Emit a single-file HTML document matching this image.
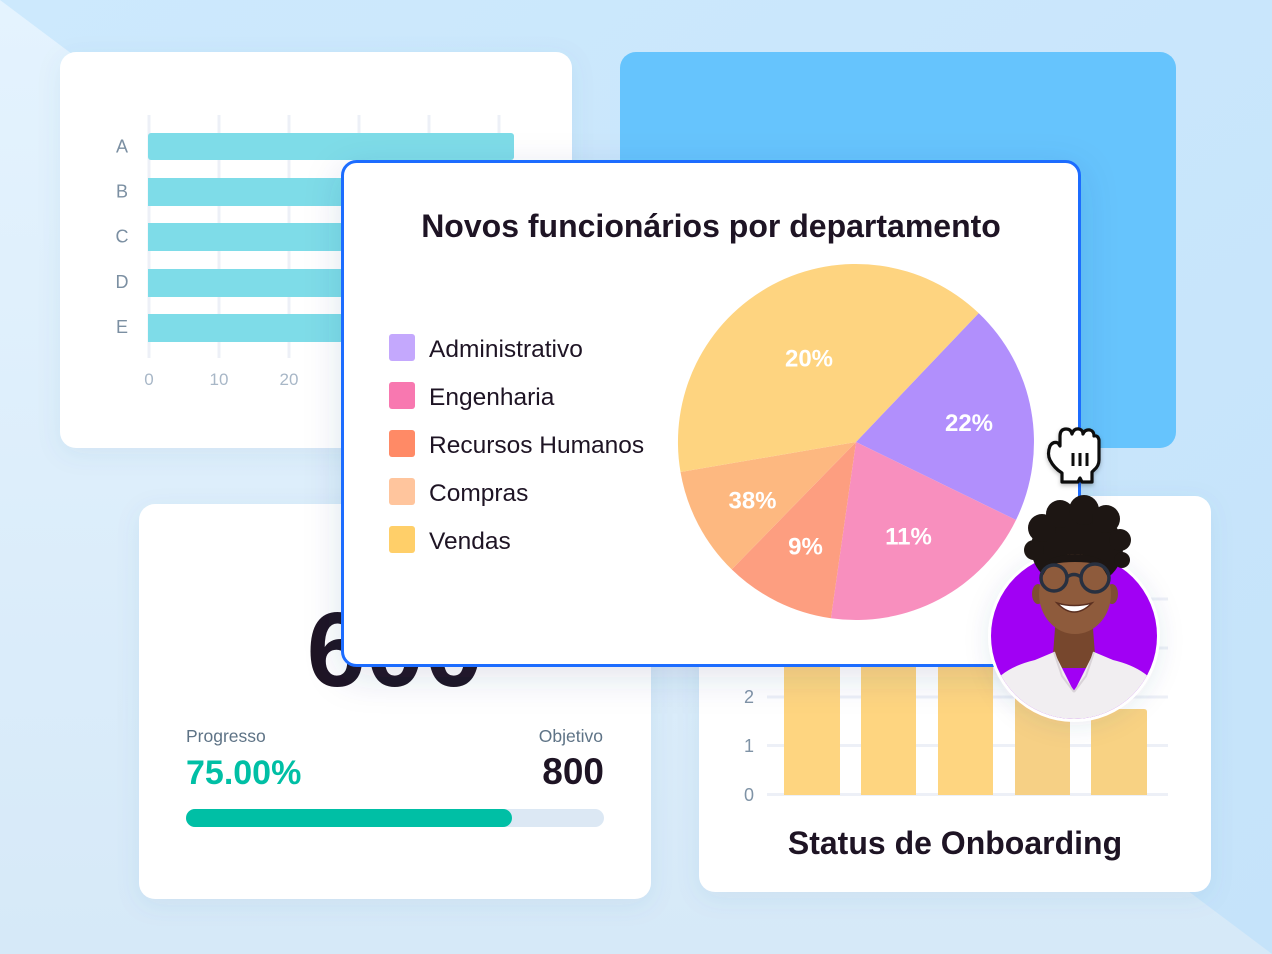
<!DOCTYPE html>
<html><head><meta charset="utf-8"><style>
html,body{margin:0;padding:0;width:1272px;height:954px;overflow:hidden;}
svg{display:block;font-family:"Liberation Sans",sans-serif;}
</style></head><body>
<svg width="1272" height="954" viewBox="0 0 1272 954" xmlns="http://www.w3.org/2000/svg">
<defs>
  <linearGradient id="bgD" x1="0" y1="0" x2="1" y2="1">
    <stop offset="0" stop-color="#cde9fd"/><stop offset="1" stop-color="#c5e3fa"/>
  </linearGradient>
  <linearGradient id="bgL" x1="0" y1="0" x2="0" y2="1">
    <stop offset="0" stop-color="#e4f3fe"/><stop offset="1" stop-color="#d6e9f8"/>
  </linearGradient>
  <filter id="sh" x="-20%" y="-20%" width="140%" height="140%">
    <feDropShadow dx="0" dy="6" stdDeviation="12" flood-color="#3a6a9a" flood-opacity="0.08"/>
  </filter>
  <filter id="sh2" x="-30%" y="-30%" width="160%" height="160%">
    <feDropShadow dx="0" dy="10" stdDeviation="18" flood-color="#2a4a7a" flood-opacity="0.14"/>
  </filter>
  <filter id="sh3" x="-30%" y="-30%" width="160%" height="160%">
    <feDropShadow dx="0" dy="4" stdDeviation="12" flood-color="#2a4a7a" flood-opacity="0.10"/>
  </filter>
  <filter id="sh4" x="-30%" y="-30%" width="160%" height="160%">
    <feDropShadow dx="0" dy="2" stdDeviation="2" flood-color="#000" flood-opacity="0.25"/>
  </filter>
  <clipPath id="avc"><circle cx="1074" cy="636" r="83"/></clipPath>
</defs>

<!-- background -->
<rect width="1272" height="954" fill="url(#bgD)"/>
<polygon points="0,0 1272,954 0,954" fill="url(#bgL)"/>

<!-- Card 1: horizontal bar chart -->
<rect x="60" y="52" width="512" height="396" rx="16" fill="#fff" filter="url(#sh)"/>
<g stroke="#edf0f7" stroke-width="3">
  <line x1="149" y1="115" x2="149" y2="358"/>
  <line x1="219" y1="115" x2="219" y2="358"/>
  <line x1="289" y1="115" x2="289" y2="358"/>
  <line x1="359" y1="115" x2="359" y2="358"/>
  <line x1="429" y1="115" x2="429" y2="358"/>
  <line x1="499" y1="115" x2="499" y2="358"/>
</g>
<g fill="#7edce8">
  <rect x="148" y="133" width="366" height="27" rx="3"/>
  <rect x="148" y="178" width="260" height="28"/>
  <rect x="148" y="223" width="260" height="28"/>
  <rect x="148" y="269" width="260" height="28"/>
  <rect x="148" y="314" width="260" height="28"/>
</g>
<g fill="#7b8fa2" font-size="18" text-anchor="middle">
  <text x="122" y="152.5">A</text>
  <text x="122" y="197.5">B</text>
  <text x="122" y="242.5">C</text>
  <text x="122" y="288">D</text>
  <text x="122" y="333">E</text>
</g>
<g fill="#a8b7c7" font-size="17" text-anchor="middle">
  <text x="149" y="385">0</text>
  <text x="219" y="385">10</text>
  <text x="289" y="385">20</text>
</g>

<!-- Card 2: blue block -->
<rect x="620" y="52" width="556" height="396" rx="16" fill="#66c4fd"/>

<!-- Card 3: progress -->
<rect x="139" y="504" width="512" height="395" rx="16" fill="#fff" filter="url(#sh)"/>
<text x="395" y="686" text-anchor="middle" font-size="106" font-weight="bold" fill="#1e1424">600</text>
<text x="186" y="742" font-size="17.5" fill="#5e7386">Progresso</text>
<text x="603" y="742" font-size="17.5" fill="#5e7386" text-anchor="end">Objetivo</text>
<text x="186" y="784" font-size="34" font-weight="bold" fill="#00bfa5">75.00%</text>
<text x="604" y="784" font-size="37" font-weight="bold" fill="#1e1424" text-anchor="end">800</text>
<rect x="186" y="809" width="418" height="18" rx="9" fill="#dce8f4"/>
<rect x="186" y="809" width="326" height="18" rx="9" fill="#00bfa5"/>

<!-- Card 4: onboarding -->
<rect x="699" y="496" width="512" height="396" rx="16" fill="#fff" filter="url(#sh)"/>
<g stroke="#edf0f7" stroke-width="3">
  <line x1="767" y1="794.5" x2="1168" y2="794.5"/>
  <line x1="767" y1="745.5" x2="1168" y2="745.5"/>
  <line x1="767" y1="697" x2="1168" y2="697"/>
  <line x1="767" y1="648" x2="1168" y2="648"/>
  <line x1="767" y1="599" x2="1168" y2="599"/>
</g>
<g fill="#7f93a6" font-size="18" text-anchor="middle">
  <text x="749" y="801">0</text>
  <text x="749" y="752">1</text>
  <text x="749" y="703">2</text>
</g>
<g fill="#fed580">
  <rect x="784" y="600" width="56" height="195"/>
  <rect x="861" y="600" width="55" height="195"/>
  <rect x="938" y="600" width="55" height="195"/>
  <rect x="1015" y="600" width="55" height="195" fill="#f6d085"/>
  <path d="M1091 795 L1091 712 Q1091 709 1094 709 L1144 709 Q1147 709 1147 712 L1147 795 Z" fill="#f8d283"/>
</g>
<text x="955" y="854" text-anchor="middle" font-size="32" font-weight="bold" fill="#1e1424">Status de Onboarding</text>

<!-- Popup -->
<rect x="342.5" y="161.5" width="737" height="504" rx="14" fill="#fff" stroke="#1a6cff" stroke-width="3" filter="url(#sh2)"/>
<text x="711" y="237" text-anchor="middle" font-size="32" font-weight="bold" fill="#1e1424">Novos funcionários por departamento</text>

<g>
  <rect x="389" y="334" width="26" height="27" rx="3" fill="#c4a8fd"/>
  <rect x="389" y="382" width="26" height="27" rx="3" fill="#f878b0"/>
  <rect x="389" y="430" width="26" height="27" rx="3" fill="#ff8a66"/>
  <rect x="389" y="478" width="26" height="27" rx="3" fill="#ffc59d"/>
  <rect x="389" y="526" width="26" height="27" rx="3" fill="#ffcf69"/>
</g>
<g font-size="24.5" fill="#1e1424">
  <text x="429" y="357">Administrativo</text>
  <text x="429" y="405">Engenharia</text>
  <text x="429" y="453">Recursos Humanos</text>
  <text x="429" y="501">Compras</text>
  <text x="429" y="549">Vendas</text>
</g>

<!-- Pie -->
<g>
  <path d="M856 442 L978.7 313.1 A178 178 0 0 1 1016.0 520.0 Z" fill="#b18ffc"/>
  <path d="M856 442 L1016.0 520.0 A178 178 0 0 1 830.9 618.2 Z" fill="#f88fbe"/>
  <path d="M856 442 L830.9 618.2 A178 178 0 0 1 731.7 569.4 Z" fill="#fd9e80"/>
  <path d="M856 442 L731.7 569.4 A178 178 0 0 1 680.5 472.0 Z" fill="#fdb880"/>
  <path d="M856 442 L680.5 472.0 A178 178 0 0 1 978.7 313.1 Z" fill="#fed480"/>
</g>
<g font-size="24" font-weight="bold" fill="#fff" text-anchor="middle">
  <text x="809" y="366.6">20%</text>
  <text x="969" y="431">22%</text>
  <text x="752.5" y="508.3">38%</text>
  <text x="805.5" y="554.4">9%</text>
  <text x="908.5" y="544.6">11%</text>
</g>

<!-- Cursor (grab hand) -->
<g transform="translate(1046,426)" filter="url(#sh4)">
  <path d="M14 10 Q14 3 20 3 Q25 3 26 8 Q28 2 33 3 Q37 4 37 8 Q39 3 44 4 Q48 5 48 10 Q52 9 53 14 L53 34 Q53 40 48 44 L46 46 L46 56 L36 56 L34 52 L32 56 L16 56 L16 47 Q8 42 4 34 Q1 28 4 20 Q7 15 12 17 L14 20 Z" fill="#fff" stroke="#111" stroke-width="3.2" stroke-linejoin="round"/>
  <g stroke="#111" stroke-width="3" stroke-linecap="butt">
    <line x1="27" y1="27" x2="27" y2="40"/>
    <line x1="34" y1="27" x2="34" y2="40"/>
    <line x1="41" y1="27" x2="41" y2="40"/>
  </g>
</g>

<!-- Avatar -->
<g>
  <circle cx="1074" cy="636" r="86" fill="#fff" filter="url(#sh3)"/>
  <circle cx="1074" cy="636" r="83" fill="#a100f4"/>
  <g fill="#1d1613">
    <ellipse cx="1077" cy="548" rx="46" ry="40"/>
    <circle cx="1042" cy="528" r="14"/>
    <circle cx="1060" cy="514" r="14"/>
    <circle cx="1084" cy="510" r="15"/>
    <circle cx="1106" cy="519" r="14"/>
    <circle cx="1120" cy="540" r="11"/>
    <circle cx="1034" cy="550" r="10"/>
    <circle cx="1122" cy="560" r="8"/>
  </g>
  <ellipse cx="1038" cy="594" rx="6" ry="10" fill="#7e4e33"/>
  <ellipse cx="1112" cy="594" rx="6" ry="10" fill="#7e4e33"/>
  <path d="M1056 615 L1092 615 L1096 668 L1052 668 Z" fill="#77472d"/>
  <g clip-path="url(#avc)">
    <path d="M985 700 Q993 670 1035 660 L1054 652 L1074 692 L1094 652 L1113 660 Q1155 670 1163 700 L1163 730 L985 730 Z" fill="#f1eef1"/>
    <path d="M1054 652 L1062 676 L1074 692 M1094 652 L1086 676 L1074 692" stroke="#d9d3d8" stroke-width="2" fill="none"/>
  </g>
  <ellipse cx="1075" cy="594" rx="36" ry="40" fill="#8e5b3c"/>
  <path d="M1040 570 Q1044 556 1075 554 Q1106 556 1110 570 Q1100 562 1075 562 Q1050 562 1040 570 Z" fill="#1d1613"/>
  <g fill="none" stroke="#283040" stroke-width="3.5">
    <circle cx="1054" cy="578" r="13"/>
    <circle cx="1095" cy="578" r="14"/>
    <path d="M1067 577 Q1074 572 1081 577"/>
  </g>
  <path d="M1057 603 Q1074 621 1092 603 Q1074 608 1057 603 Z" fill="#fff" stroke="#5a2f20" stroke-width="1.5"/>
</g>
</svg>
</body></html>
